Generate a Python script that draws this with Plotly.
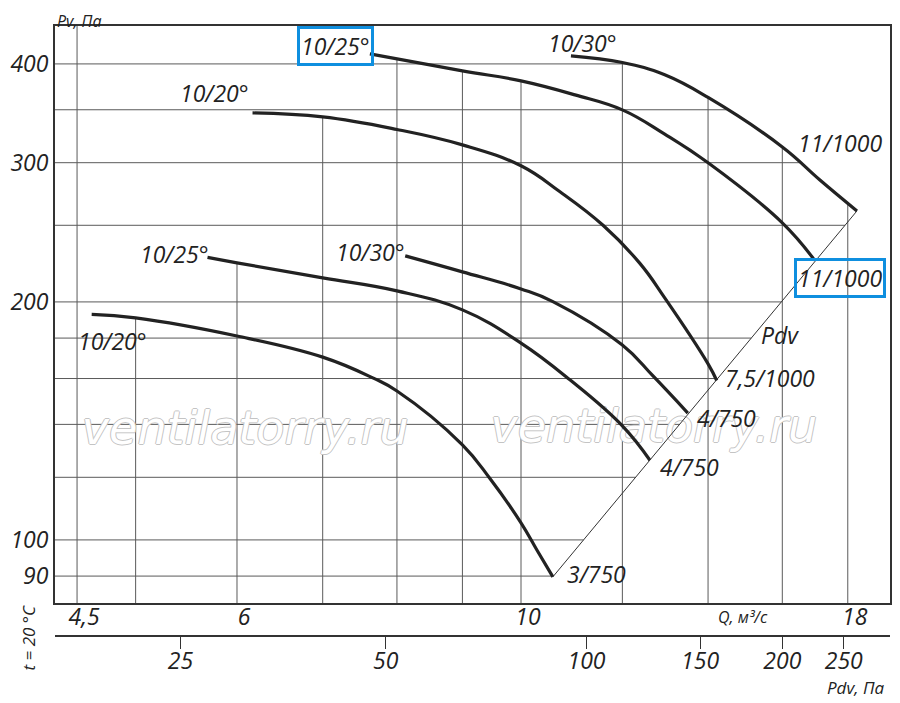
import numpy as np
import plotly.graph_objects as go

# %% data (Q in m3/s, Pv in Pa)
q_30_big = [10.94, 12.0, 12.95, 14.0, 16.0, 17.12, 18.30]
p_30_big = [409.5, 401.6, 387.5, 362.8, 314.1, 285.3, 260.7]

q_25_big = [7.62, 9.0, 10.0, 11.02, 12.0, 12.95, 14.0, 16.0, 16.96]
p_25_big = [411.9, 392.0, 380.7, 365.5, 349.9, 326.0, 299.9, 251.8, 225.7]

q_20_big = [6.17, 7.0, 8.0, 9.0, 10.0, 10.72, 11.59, 12.38, 12.95, 14.0, 14.22]
p_20_big = [346.8, 342.8, 330.5, 316.0, 297.3, 275.8, 250.0, 223.9, 202.4, 167.0, 159.1]

q_30_small = [8.12, 9.0, 10.0, 10.59, 12.0, 12.68, 13.50]
p_30_small = [228.7, 218.3, 207.7, 200.2, 176.4, 161.2, 144.7]

q_25_small = [5.69, 6.0, 7.0, 8.0, 9.0, 10.0, 10.92, 12.0, 12.61]
p_25_small = [227.7, 224.1, 214.5, 206.5, 195.4, 177.4, 159.4, 139.4, 126.1]

q_20_small = [4.62, 5.0, 6.0, 7.0, 7.66, 8.0, 9.0, 9.46, 10.0, 10.29, 10.59]
p_20_small = [192.9, 190.9, 181.1, 170.3, 160.3, 154.3, 131.9, 119.5, 105.1, 97.1, 89.8]

angle_labels = ["10/30°", "10/25°", "10/20°", "10/30°", "10/25°", "10/20°"]
motor_labels = ["11/1000", "11/1000", "7,5/1000", "4/750", "4/750", "3/750"]

q_grid = [4.5, 5, 6, 7, 8, 9, 10, 12, 14, 16, 18]
p_grid = [90, 100, 120, 140, 160, 180, 200, 250, 300, 350, 400]

q_ticks = [4.5, 6, 10, 18]
q_ticktext = ["4,5", "6", "10", "18"]
p_ticks = [90, 100, 200, 300, 400]
p_ticktext = ["90", "100", "200", "300", "400"]

# Pdv scale, tick positions given on the Q scale
pdv_tick_q = [5.42, 7.84, 11.25, 13.8, 16.0, 17.87]
pdv_ticktext = ["25", "50", "100", "150", "200", "250"]

curves = [
    (q_30_big, p_30_big),
    (q_25_big, p_25_big),
    (q_20_big, p_20_big),
    (q_30_small, p_30_small),
    (q_25_small, p_25_small),
    (q_20_small, p_20_small),
]

X_RANGE = [np.log10(4.325), np.log10(19.42)]
Y_RANGE = [np.log10(83.2), np.log10(446.7)]
INK = "#222222"
GRID = "#5a5a5a"
BLUE = "#0f8fdf"
FONT = "Open Sans"

# diagonal Pdv line through the curve ends
diag_q = [q_20_small[-1], q_30_big[-1]]
diag_p = [p_20_small[-1], p_30_big[-1]]


# %% grid clipped under the curves like the original sheet
def curve_p_at(q, cq, cp):
    return 10 ** np.interp(np.log10(q), np.log10(cq), np.log10(cp))


gx, gy = [], []
for qg in q_grid:
    tops = [curve_p_at(qg, cq, cp) for cq, cp in curves if cq[0] <= qg <= cq[-1]]
    top = max(tops) if tops else 10 ** Y_RANGE[1]
    gx += [qg, qg, None]
    gy += [10 ** Y_RANGE[0], top, None]

for pg in p_grid:
    if pg >= p_30_big[-1]:
        qr = 10 ** np.interp(np.log10(pg), np.log10(p_30_big[::-1]), np.log10(q_30_big[::-1]))
    else:
        qr = 10 ** np.interp(np.log10(pg), np.log10(diag_p), np.log10(diag_q))
    gx += [10 ** X_RANGE[0], qr, None]
    gy += [pg, pg, None]

fig = go.Figure()
fig.add_trace(go.Scatter(x=gx, y=gy, mode="lines", line=dict(color=GRID, width=1),
                         hoverinfo="skip"))

# watermark
outline = "1px 0 0 #c4c4c4, -1px 0 0 #c4c4c4, 0 1px 0 #c4c4c4, 0 -1px 0 #c4c4c4"
fig.add_trace(go.Scatter(x=[6.09, 12.70], y=[136.9, 137.7], mode="text",
                         text=["ventilatorry.ru"] * 2,
                         textfont=dict(family="DejaVu Sans", size=46, color="white",
                                       style="italic", shadow=outline),
                         hoverinfo="skip"))

fig.add_trace(go.Scatter(x=diag_q, y=diag_p, xaxis="x2", mode="lines",
                         line=dict(color="#333333", width=1), hoverinfo="skip"))

for cq, cp in curves:
    fig.add_trace(go.Scatter(x=cq, y=cp, mode="lines",
                             line=dict(color=INK, width=3.2, shape="spline", smoothing=1.2)))

# %% labels
label_font = dict(family=FONT, size=23, color=INK, style="italic")
small_font = dict(family=FONT, size=17, color=INK, style="italic")
start_shift = [(12, 13), (-34, 8), (-38, 20), (-35, 4), (-33, 3), (21, -27)]
end_shift = [(-17, 68), (25, -18), (6, 2), (7, -5), (8, -7), (12, 3)]

ann = []
for i, (cq, cp) in enumerate(curves):
    sx, sy = start_shift[i]
    box = dict(bordercolor=BLUE, borderwidth=3, borderpad=1) if i == 1 else {}
    ann.append(dict(x=np.log10(cq[0]), y=np.log10(cp[0]), text=angle_labels[i],
                    showarrow=False, xshift=sx, yshift=sy, xanchor="center",
                    yanchor="middle", font=label_font, **box))
    ex, ey = end_shift[i]
    anchor = "center" if i < 2 else "left"
    box = dict(bordercolor=BLUE, borderwidth=3, borderpad=1) if i == 1 else {}
    ann.append(dict(x=np.log10(cq[-1]), y=np.log10(cp[-1]), text=motor_labels[i],
                    showarrow=False, xshift=ex, yshift=ey, xanchor=anchor,
                    yanchor="middle", font=label_font, **box))

ann += [
    dict(x=0.868, y=0.493, text="Pdv", font=label_font),
    dict(x=0.0, y=1.0295, text="Pv, Па", font=dict(small_font, size=16),
         xanchor="left", yanchor="top"),
    dict(x=0.824, y=0.031, text="Q, м³/с", font=dict(small_font, size=16)),
    dict(x=0.959, y=-0.085, text="Pdv, Па", font=small_font),
    dict(x=-0.032, y=-0.002, text="t = 20 °C", textangle=-90, font=small_font),
]
for a in ann[-5:]:
    a.setdefault("xanchor", "center")
    a.setdefault("yanchor", "middle")
    a.update(xref="paper", yref="paper", showarrow=False)

# the page body adds 8 px on top/left, so the figure is drawn 8 px smaller
tick_font = dict(family=FONT, size=23, color=INK, style="italic")
fig.update_layout(
    width=892, height=695,
    margin=dict(l=47, r=10, t=18, b=67, autoexpand=False),
    plot_bgcolor="white", paper_bgcolor="white",
    showlegend=False,
    annotations=ann,
    xaxis=dict(type="log", range=X_RANGE, showgrid=False, zeroline=False, automargin=False,
               showline=True, linecolor="#333333", linewidth=2, mirror=True,
               tickvals=q_ticks, ticktext=q_ticktext, ticks="",
               tickfont=tick_font, ticklabelshift=7, ticklabelstandoff=-8),
    xaxis2=dict(type="log", range=X_RANGE, overlaying="x", anchor="free", position=0,
                showgrid=False, zeroline=False, showline=True, linecolor="#333333",
                linewidth=2, tickvals=pdv_tick_q, ticktext=pdv_ticktext, automargin=False,
                ticks="outside", ticklen=12, tickcolor="#333333", tickfont=tick_font,
                ticklabelstandoff=-8),
    yaxis=dict(type="log", range=Y_RANGE, domain=[0.054, 1], showgrid=False, automargin=False,
               zeroline=False, showline=True, linecolor="#333333", linewidth=2,
               mirror=True, tickvals=p_ticks, ticktext=p_ticktext, ticks="",
               tickfont=tick_font),
)

fig.write_html("out.html")
